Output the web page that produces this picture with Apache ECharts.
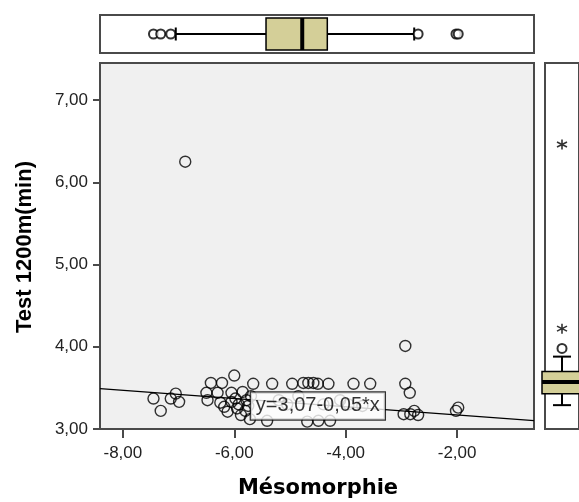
<!DOCTYPE html>
<html>
<head>
<meta charset="utf-8">
<script src="https://cdn.jsdelivr.net/npm/echarts@6/dist/echarts.min.js"></script>
<style>
html,body{margin:0;padding:0;background:#fff}
#chart{width:579px;height:502px}
</style>
</head>
<body>
<div id="chart"></div>
<script>
// Observed cases: somatotype mesomorphy score vs. 1200 m test time (minutes)
const mesomorphie = [
  -7.45, -7.32, -7.14, -7.05, -6.99, -6.88,
  -6.50, -6.48, -6.42, -6.30, -6.22, -6.00,
  -6.25, -6.18, -6.12, -6.05, -6.05, -5.98, -5.95, -5.92, -5.88, -5.85, -5.80, -5.78, -5.75, -5.72, -5.70, -5.66,
  -5.41, -5.32, -5.20, -5.05, -4.96, -4.85, -4.76, -4.69, -4.67, -4.58, -4.50, -4.49, -4.40, -4.31, -4.28, -4.10, -3.95, -3.86, -3.70, -3.56,
  -2.93, -2.93, -2.85, -2.96, -2.84, -2.77, -2.70, -2.02, -1.98
];
const test1200 = [
  3.37, 3.22, 3.37, 3.43, 3.33, 6.25,
  3.44, 3.35, 3.56, 3.44, 3.56, 3.65,
  3.32, 3.27, 3.21, 3.44, 3.33, 3.37, 3.25, 3.30, 3.17, 3.45, 3.22, 3.35, 3.28, 3.12, 3.40, 3.55,
  3.10, 3.55, 3.35, 3.30, 3.55, 3.40, 3.56, 3.09, 3.56, 3.56, 3.55, 3.10, 3.30, 3.55, 3.10, 3.35, 3.30, 3.55, 3.28, 3.55,
  4.01, 3.55, 3.44, 3.18, 3.18, 3.22, 3.17, 3.22, 3.26
];

// Axis ticks
const xTicks = [-8, -6, -4, -2];
const yTicks = [3, 4, 5, 6, 7];

// Linear fit shown on the plot
const regIntercept = 3.07;
const regSlope = -0.05;
const regLabel = 'y=3,07-0,05*x';

// Marginal box plots: [lower whisker, Q1, median, Q3, upper whisker]
const xBox = [-7.05, -5.43, -4.78, -4.33, -2.77];
const xOutliers = [-7.45, -7.32, -7.14, -2.70, -2.02, -1.98];
const yBox = [3.29, 3.43, 3.57, 3.70, 3.88];
const yOutliers = [3.98];
const yExtremes = [4.22, 6.46];

const X_MIN = -8.41, X_MAX = -0.62;
const Y_MIN = 3, Y_MAX = 7.45;

const fmt = v => v.toFixed(2).replace('.', ',');
const boxFill = '#D4CF98';
const frame = '#4a4a4a';

// Box-and-whisker drawn through the axes of its grid
function boxRenderer(horizontal, halfBox, halfCap) {
  return function (params, api) {
    const v = [0, 1, 2, 3, 4].map(i => api.value(i));
    const p = val => horizontal ? api.coord([val, 0]) : api.coord([0, val]);
    const lo = p(v[0]), q1 = p(v[1]), md = p(v[2]), q3 = p(v[3]), hi = p(v[4]);
    const line = (a, b, w) => ({
      type: 'line',
      shape: horizontal ? { x1: a[0], y1: a[1] + b, x2: a[0], y2: a[1] - b } : { x1: a[0] - b, y1: a[1], x2: a[0] + b, y2: a[1] },
      style: { stroke: '#000', lineWidth: w }
    });
    const children = [
      { type: 'line', shape: { x1: lo[0], y1: lo[1], x2: q1[0], y2: q1[1] }, style: { stroke: '#000', lineWidth: 2 } },
      { type: 'line', shape: { x1: q3[0], y1: q3[1], x2: hi[0], y2: hi[1] }, style: { stroke: '#000', lineWidth: 2 } },
      line(lo, halfCap, 2),
      line(hi, halfCap, 2),
      {
        type: 'rect',
        shape: horizontal
          ? { x: q1[0], y: q1[1] - halfBox, width: q3[0] - q1[0], height: 2 * halfBox }
          : { x: q3[0] - halfBox, y: q3[1], width: 2 * halfBox, height: q1[1] - q3[1] },
        style: { fill: boxFill, stroke: '#000', lineWidth: 1.5 }
      },
      line(md, halfBox, 4)
    ];
    return { type: 'group', children };
  };
}

const asterisk = 'path://M5 0L5 10M0.7 2.5L9.3 7.5M0.7 7.5L9.3 2.5';

const chart = echarts.init(document.getElementById('chart'), null, { renderer: 'canvas' });

chart.setOption({
  animation: false,
  backgroundColor: '#fff',
  grid: [
    { left: 100, top: 63, width: 434, height: 366, show: true, backgroundColor: '#F0F0F0', borderColor: frame, borderWidth: 2 },
    { left: 100, top: 15, width: 434, height: 38, show: true, backgroundColor: '#fff', borderColor: frame, borderWidth: 2 },
    { left: 545, top: 63, width: 50, height: 366, show: true, backgroundColor: '#fff', borderColor: frame, borderWidth: 2 }
  ],
  xAxis: [
    {
      gridIndex: 0, type: 'value', min: X_MIN, max: X_MAX,
      splitLine: { show: false },
      axisLine: { show: true, onZero: false, lineStyle: { color: frame, width: 2 } },
      axisTick: { show: true, customValues: xTicks, length: 9, lineStyle: { color: frame, width: 2 } },
      axisLabel: { customValues: xTicks, formatter: fmt, margin: 16, color: '#222', fontSize: 17, fontFamily: 'Liberation Sans' }
    },
    { gridIndex: 1, type: 'value', min: X_MIN, max: X_MAX, show: false },
    { gridIndex: 2, type: 'value', min: -1, max: 1, show: false }
  ],
  yAxis: [
    {
      gridIndex: 0, type: 'value', min: Y_MIN, max: Y_MAX, interval: 1,
      splitLine: { show: false },
      axisLine: { show: true, onZero: false, lineStyle: { color: frame, width: 2 } },
      axisTick: { show: true, customValues: yTicks, length: 7, lineStyle: { color: frame, width: 2 } },
      axisLabel: { customValues: yTicks, formatter: fmt, margin: 12, color: '#222', fontSize: 17, fontFamily: 'Liberation Sans' }
    },
    { gridIndex: 1, type: 'value', min: -1, max: 1, show: false },
    { gridIndex: 2, type: 'value', min: Y_MIN, max: Y_MAX, show: false }
  ],
  series: [
    {
      type: 'line', xAxisIndex: 0, yAxisIndex: 0, symbol: 'none', silent: true,
      lineStyle: { color: '#000', width: 1.3 },
      data: [X_MIN, X_MAX].map(x => [x, regIntercept + regSlope * x]),
      z: 2
    },
    {
      type: 'scatter', xAxisIndex: 0, yAxisIndex: 0, symbol: 'circle', symbolSize: 11,
      itemStyle: { color: 'transparent', borderColor: '#000', borderWidth: 1.4 },
      data: mesomorphie.map((x, i) => [x, test1200[i]]),
      z: 3
    },
    {
      type: 'scatter', xAxisIndex: 0, yAxisIndex: 0, symbolSize: 1,
      itemStyle: { color: 'transparent' },
      label: {
        show: true, position: 'inside', formatter: regLabel,
        fontSize: 20, fontFamily: 'Liberation Sans', color: '#000',
        backgroundColor: '#fff', borderColor: '#000', borderWidth: 1.2, padding: [4, 5, 3, 5]
      },
      data: [[-4.50, 3.28]],
      z: 5
    },
    {
      type: 'custom', xAxisIndex: 1, yAxisIndex: 1,
      renderItem: boxRenderer(true, 16, 6.5),
      data: [xBox], z: 2
    },
    {
      type: 'scatter', xAxisIndex: 1, yAxisIndex: 1, symbol: 'circle', symbolSize: 9,
      itemStyle: { color: '#fff', borderColor: '#000', borderWidth: 2 },
      data: xOutliers.map(x => [x, 0]), z: 3
    },
    {
      type: 'custom', xAxisIndex: 2, yAxisIndex: 2,
      renderItem: boxRenderer(false, 20, 9),
      data: [yBox], z: 2
    },
    {
      type: 'scatter', xAxisIndex: 2, yAxisIndex: 2, symbol: 'circle', symbolSize: 9,
      itemStyle: { color: '#fff', borderColor: '#000', borderWidth: 2 },
      data: yOutliers.map(y => [0, y]), z: 3
    },
    {
      type: 'scatter', xAxisIndex: 2, yAxisIndex: 2, symbol: asterisk, symbolSize: 10,
      itemStyle: { color: 'none', borderColor: '#000', borderWidth: 1.6 },
      data: yExtremes.map(y => [0, y]), z: 3
    }
  ],
  graphic: [
    {
      type: 'text', x: 25, y: 247, rotation: Math.PI / 2,
      style: { text: 'Test 1200m(min)', fontSize: 22, fontWeight: 'bold', fontFamily: 'Liberation Sans', fill: '#000', align: 'center', verticalAlign: 'middle' }
    },
    {
      type: 'text', x: 318, y: 489,
      style: { text: 'Mésomorphie', fontSize: 21, fontWeight: 'bold', fontFamily: 'DejaVu Sans', fill: '#000', align: 'center', verticalAlign: 'middle' }
    }
  ]
});
</script>
</body>
</html>
